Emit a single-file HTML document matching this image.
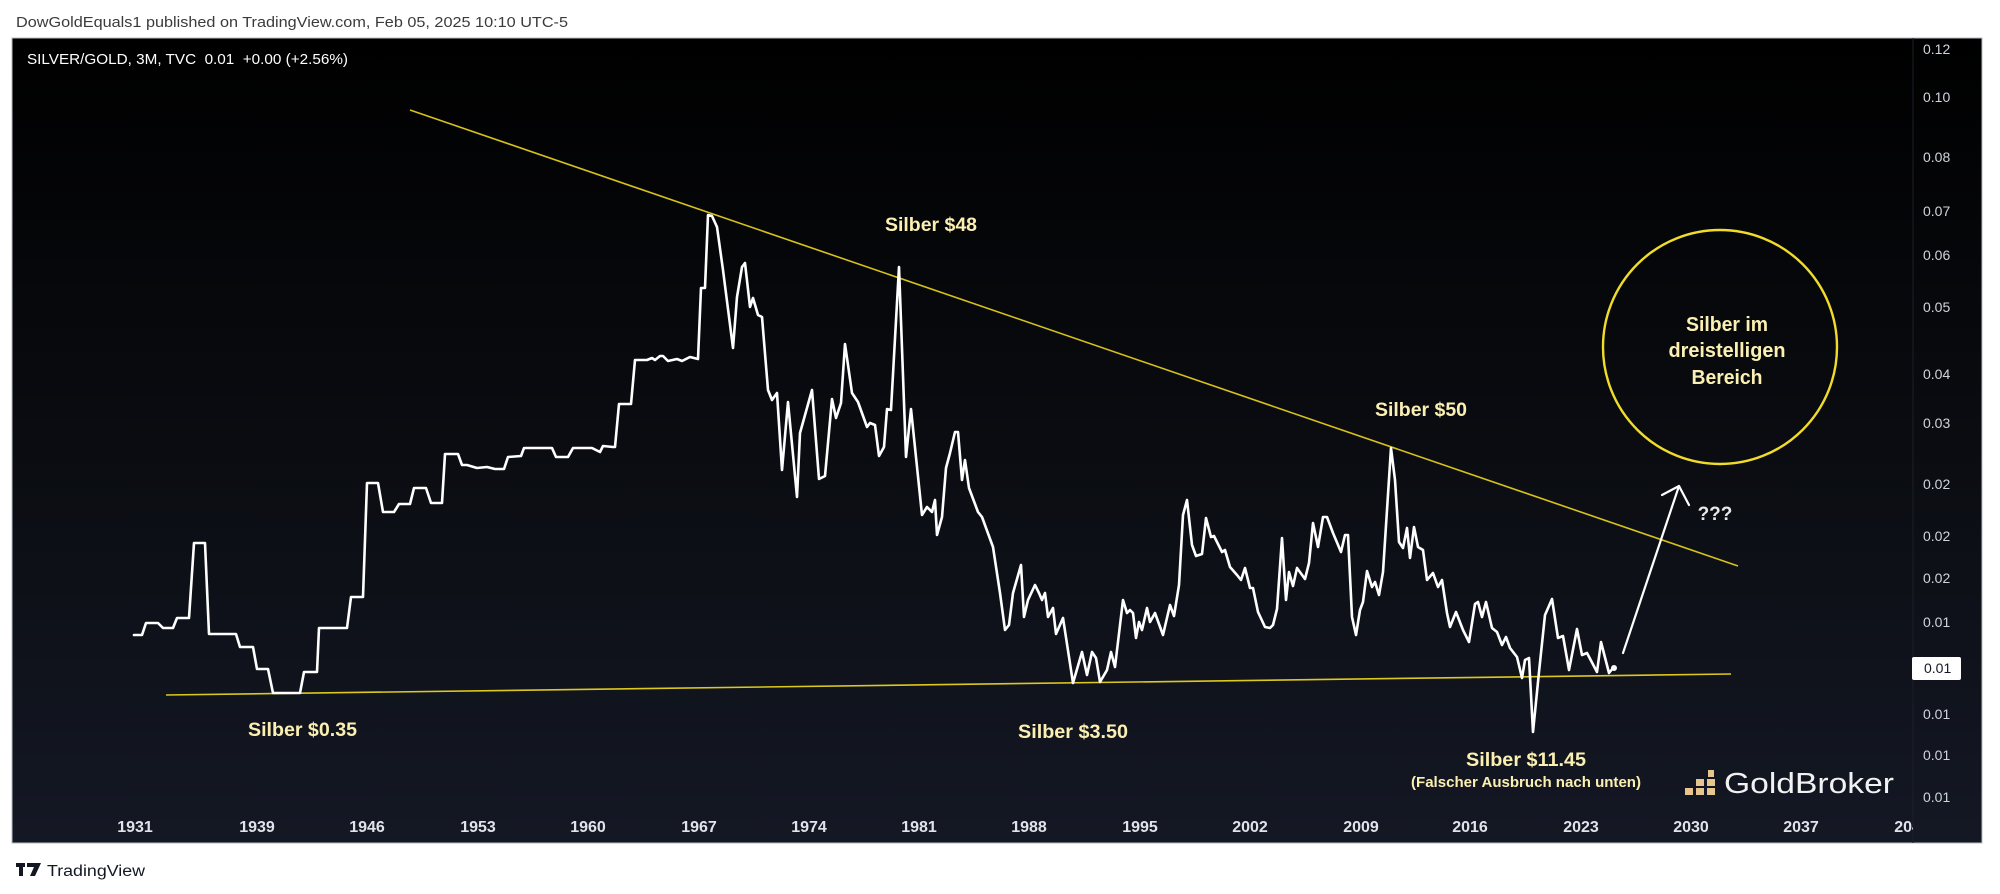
<!DOCTYPE html>
<html><head><meta charset="utf-8"><style>
html,body{margin:0;padding:0;background:#fff;}
svg{display:block;}
</style></head><body>
<svg width="2000" height="894" viewBox="0 0 2000 894" xmlns="http://www.w3.org/2000/svg">
<defs>
<linearGradient id="bg" x1="0" y1="0" x2="0" y2="1">
<stop offset="0" stop-color="#000000"/>
<stop offset="0.5" stop-color="#0a0c11"/>
<stop offset="1" stop-color="#141824"/>
</linearGradient>
<clipPath id="plot"><rect x="12" y="38" width="1901" height="805"/></clipPath>
</defs>
<rect x="0" y="0" width="2000" height="894" fill="#ffffff"/>
<text x="16" y="27" font-family="Liberation Sans, sans-serif" font-size="14.5" fill="#3b3b3b" textLength="552" lengthAdjust="spacingAndGlyphs">DowGoldEquals1 published on TradingView.com, Feb 05, 2025 10:10 UTC-5</text>

<rect x="12" y="38" width="1970" height="805" fill="url(#bg)" stroke="#b8bbc2" stroke-width="1"/>
<line x1="1913" y1="38" x2="1913" y2="843" stroke="#1c1f28" stroke-width="1"/>

<text x="27" y="64" font-family="Liberation Sans, sans-serif" font-size="14.5" fill="#ffffff" textLength="321" lengthAdjust="spacingAndGlyphs" xml:space="preserve">SILVER/GOLD, 3M, TVC  0.01  +0.00 (+2.56%)</text>

<!-- price axis labels -->
<g font-family="Liberation Sans, sans-serif" font-size="14" fill="#d1d4dc">
<text x="1923" y="54">0.12</text>
<text x="1923" y="102">0.10</text>
<text x="1923" y="162">0.08</text>
<text x="1923" y="216">0.07</text>
<text x="1923" y="260">0.06</text>
<text x="1923" y="312">0.05</text>
<text x="1923" y="379">0.04</text>
<text x="1923" y="428">0.03</text>
<text x="1923" y="489">0.02</text>
<text x="1923" y="541">0.02</text>
<text x="1923" y="583">0.02</text>
<text x="1923" y="627">0.01</text>
<text x="1923" y="719">0.01</text>
<text x="1923" y="760">0.01</text>
<text x="1923" y="802">0.01</text>
</g>
<rect x="1912" y="657" width="49" height="23" rx="2" fill="#ffffff"/>
<text x="1924" y="673" font-family="Liberation Sans, sans-serif" font-size="14" fill="#131722">0.01</text>

<!-- year labels -->
<g clip-path="url(#plot)" font-family="Liberation Sans, sans-serif" font-size="16" font-weight="bold" fill="#e0e3ea" text-anchor="middle">
<text x="135" y="832">1931</text>
<text x="257" y="832">1939</text>
<text x="367" y="832">1946</text>
<text x="478" y="832">1953</text>
<text x="588" y="832">1960</text>
<text x="699" y="832">1967</text>
<text x="809" y="832">1974</text>
<text x="919" y="832">1981</text>
<text x="1029" y="832">1988</text>
<text x="1140" y="832">1995</text>
<text x="1250" y="832">2002</text>
<text x="1361" y="832">2009</text>
<text x="1470" y="832">2016</text>
<text x="1581" y="832">2023</text>
<text x="1691" y="832">2030</text>
<text x="1801" y="832">2037</text>
<text x="1912" y="832">2044</text>
</g>

<g clip-path="url(#plot)">
<!-- trend lines -->
<line x1="410" y1="110" x2="1738" y2="566" stroke="#d6c21a" stroke-width="1.6"/>
<line x1="166" y1="695" x2="1731" y2="674" stroke="#dcc81e" stroke-width="1.6"/>

<!-- price series -->
<polyline fill="none" stroke="#ffffff" stroke-width="2.6" stroke-linejoin="round" stroke-linecap="round" points="
134,635 142,635 146,623 158,623 163,628 173,628 177,618 189,618 194,543 205,543 209,634 236,634 240,647 253,647 257,669 268,669 273,693 300,693 304,672 317,672 319,628 347,628 351,597 363,597 367,483 378,483 383,512 394,512 399,504 410,504 414,488 426,488 431,503 442,503 445,454 458,454 462,465 467,465 477,468 487,467 495,469 504,469 508,457 521,456 524,448 552,448 556,457 568,457 573,448 592,448 600,452 603,446 613,447 615,447 619,404 631,404 635,360 647,360 652,358 655,360 660,356 663,356 668,361 677,359 682,361 690,357 698,359 701,288 705,288 708,215 712,216 717,227 723,270 733,348 737,297 742,267 745,263 750,307 753,298 758,315 762,317 768,390 772,400 777,393 782,470 788,402 797,497 800,433 812,390 819,479 825,476 832,399 836,418 841,403 845,344 852,393 858,402 867,427 870,423 875,425 879,456 884,447 887,409 891,410 899,267 906,457 911,409 922,515 927,507 932,512 935,500 937,535 942,517 946,468 950,453 955,432 958,432 962,480 965,460 969,488 978,512 982,517 993,547 1000,593 1005,630 1009,625 1013,593 1021,565 1024,617 1028,600 1035,585 1039,593 1042,600 1045,593 1048,617 1053,608 1056,634 1063,618 1073,683 1082,652 1087,675 1092,652 1096,658 1100,682 1107,670 1111,652 1115,667 1123,600 1127,613 1130,610 1133,613 1136,638 1139,622 1142,630 1147,608 1150,622 1155,613 1163,635 1170,605 1174,616 1179,585 1183,515 1187,500 1192,545 1196,556 1202,554 1206,518 1211,537 1214,536 1222,552 1225,550 1230,567 1237,575 1241,580 1245,568 1250,588 1253,588 1258,612 1265,627 1270,628 1273,625 1277,609 1282,538 1286,600 1289,572 1293,586 1297,568 1305,579 1309,563 1313,523 1318,547 1323,517 1327,517 1333,533 1341,552 1345,535 1348,535 1352,617 1356,635 1360,610 1363,602 1367,571 1372,587 1375,582 1379,595 1383,572 1387,510 1391,448 1395,480 1399,542 1403,548 1407,528 1410,558 1414,527 1418,547 1423,550 1427,580 1433,573 1438,587 1442,580 1447,613 1450,627 1456,612 1463,630 1469,642 1475,604 1478,602 1482,617 1486,602 1492,628 1497,632 1502,645 1506,637 1510,648 1517,657 1522,678 1525,660 1529,658 1533,732 1539,672 1545,615 1552,599 1558,638 1563,636 1569,670 1577,629 1582,655 1587,653 1597,672 1601,642 1609,673 1613,668"/>
<circle cx="1614" cy="668" r="3" fill="#ffffff"/>

<!-- arrow -->
<g stroke="#ffffff" stroke-width="2.2" fill="none" stroke-linecap="round" stroke-linejoin="round">
<line x1="1623" y1="653" x2="1679" y2="486"/>
<polyline points="1662,495 1679,486 1689,505"/>
</g>
<text x="1715" y="520" font-family="Liberation Sans, sans-serif" font-size="19" font-weight="bold" fill="#e8e8e8" text-anchor="middle">???</text>

<!-- circle -->
<circle cx="1720" cy="347" r="117" fill="none" stroke="#f2dc2a" stroke-width="2.4"/>
<g font-family="Liberation Sans, sans-serif" font-size="20" font-weight="bold" fill="#fbf0b2" text-anchor="middle">
<text x="1727" y="331" textLength="82" lengthAdjust="spacingAndGlyphs">Silber im</text>
<text x="1727" y="357" textLength="117" lengthAdjust="spacingAndGlyphs">dreistelligen</text>
<text x="1727" y="384" textLength="71" lengthAdjust="spacingAndGlyphs">Bereich</text>
</g>

<!-- labels -->
<g font-family="Liberation Sans, sans-serif" font-size="19" font-weight="bold" fill="#fbf0b2">
<text x="885" y="231" textLength="92" lengthAdjust="spacingAndGlyphs">Silber $48</text>
<text x="1375" y="416" textLength="92" lengthAdjust="spacingAndGlyphs">Silber $50</text>
<text x="248" y="736" textLength="109" lengthAdjust="spacingAndGlyphs">Silber $0.35</text>
<text x="1018" y="738" textLength="110" lengthAdjust="spacingAndGlyphs">Silber $3.50</text>
<text x="1466" y="766" textLength="120" lengthAdjust="spacingAndGlyphs">Silber $11.45</text>
<text x="1411" y="787" font-size="15" textLength="230" lengthAdjust="spacingAndGlyphs">(Falscher Ausbruch nach unten)</text>
</g>

<!-- GoldBroker logo -->
<g fill="#e6c58f">
<rect x="1685" y="788" width="8" height="7"/>
<rect x="1696" y="788" width="8" height="7"/>
<rect x="1696" y="779" width="8" height="7"/>
<rect x="1707" y="788" width="8" height="7"/>
<rect x="1707" y="779" width="8" height="7"/>
<rect x="1708" y="770" width="6" height="7"/>
</g>
<text x="1724" y="793" font-family="Liberation Sans, sans-serif" font-size="29" fill="#f2f2f2" textLength="170" lengthAdjust="spacingAndGlyphs">GoldBroker</text>
</g>

<!-- TradingView footer -->
<g fill="#131722">
<rect x="16" y="863" width="9" height="4"/>
<rect x="19" y="863" width="4" height="13"/>
<path d="M27 863 L41 863 L35 876 L30 876 L34 867 L27 867 Z"/>
<circle cx="29" cy="866" r="0"/>
</g>
<text x="47" y="876" font-family="Liberation Sans, sans-serif" font-size="15.5" fill="#131722" textLength="98" lengthAdjust="spacingAndGlyphs">TradingView</text>
</svg>
</body></html>
